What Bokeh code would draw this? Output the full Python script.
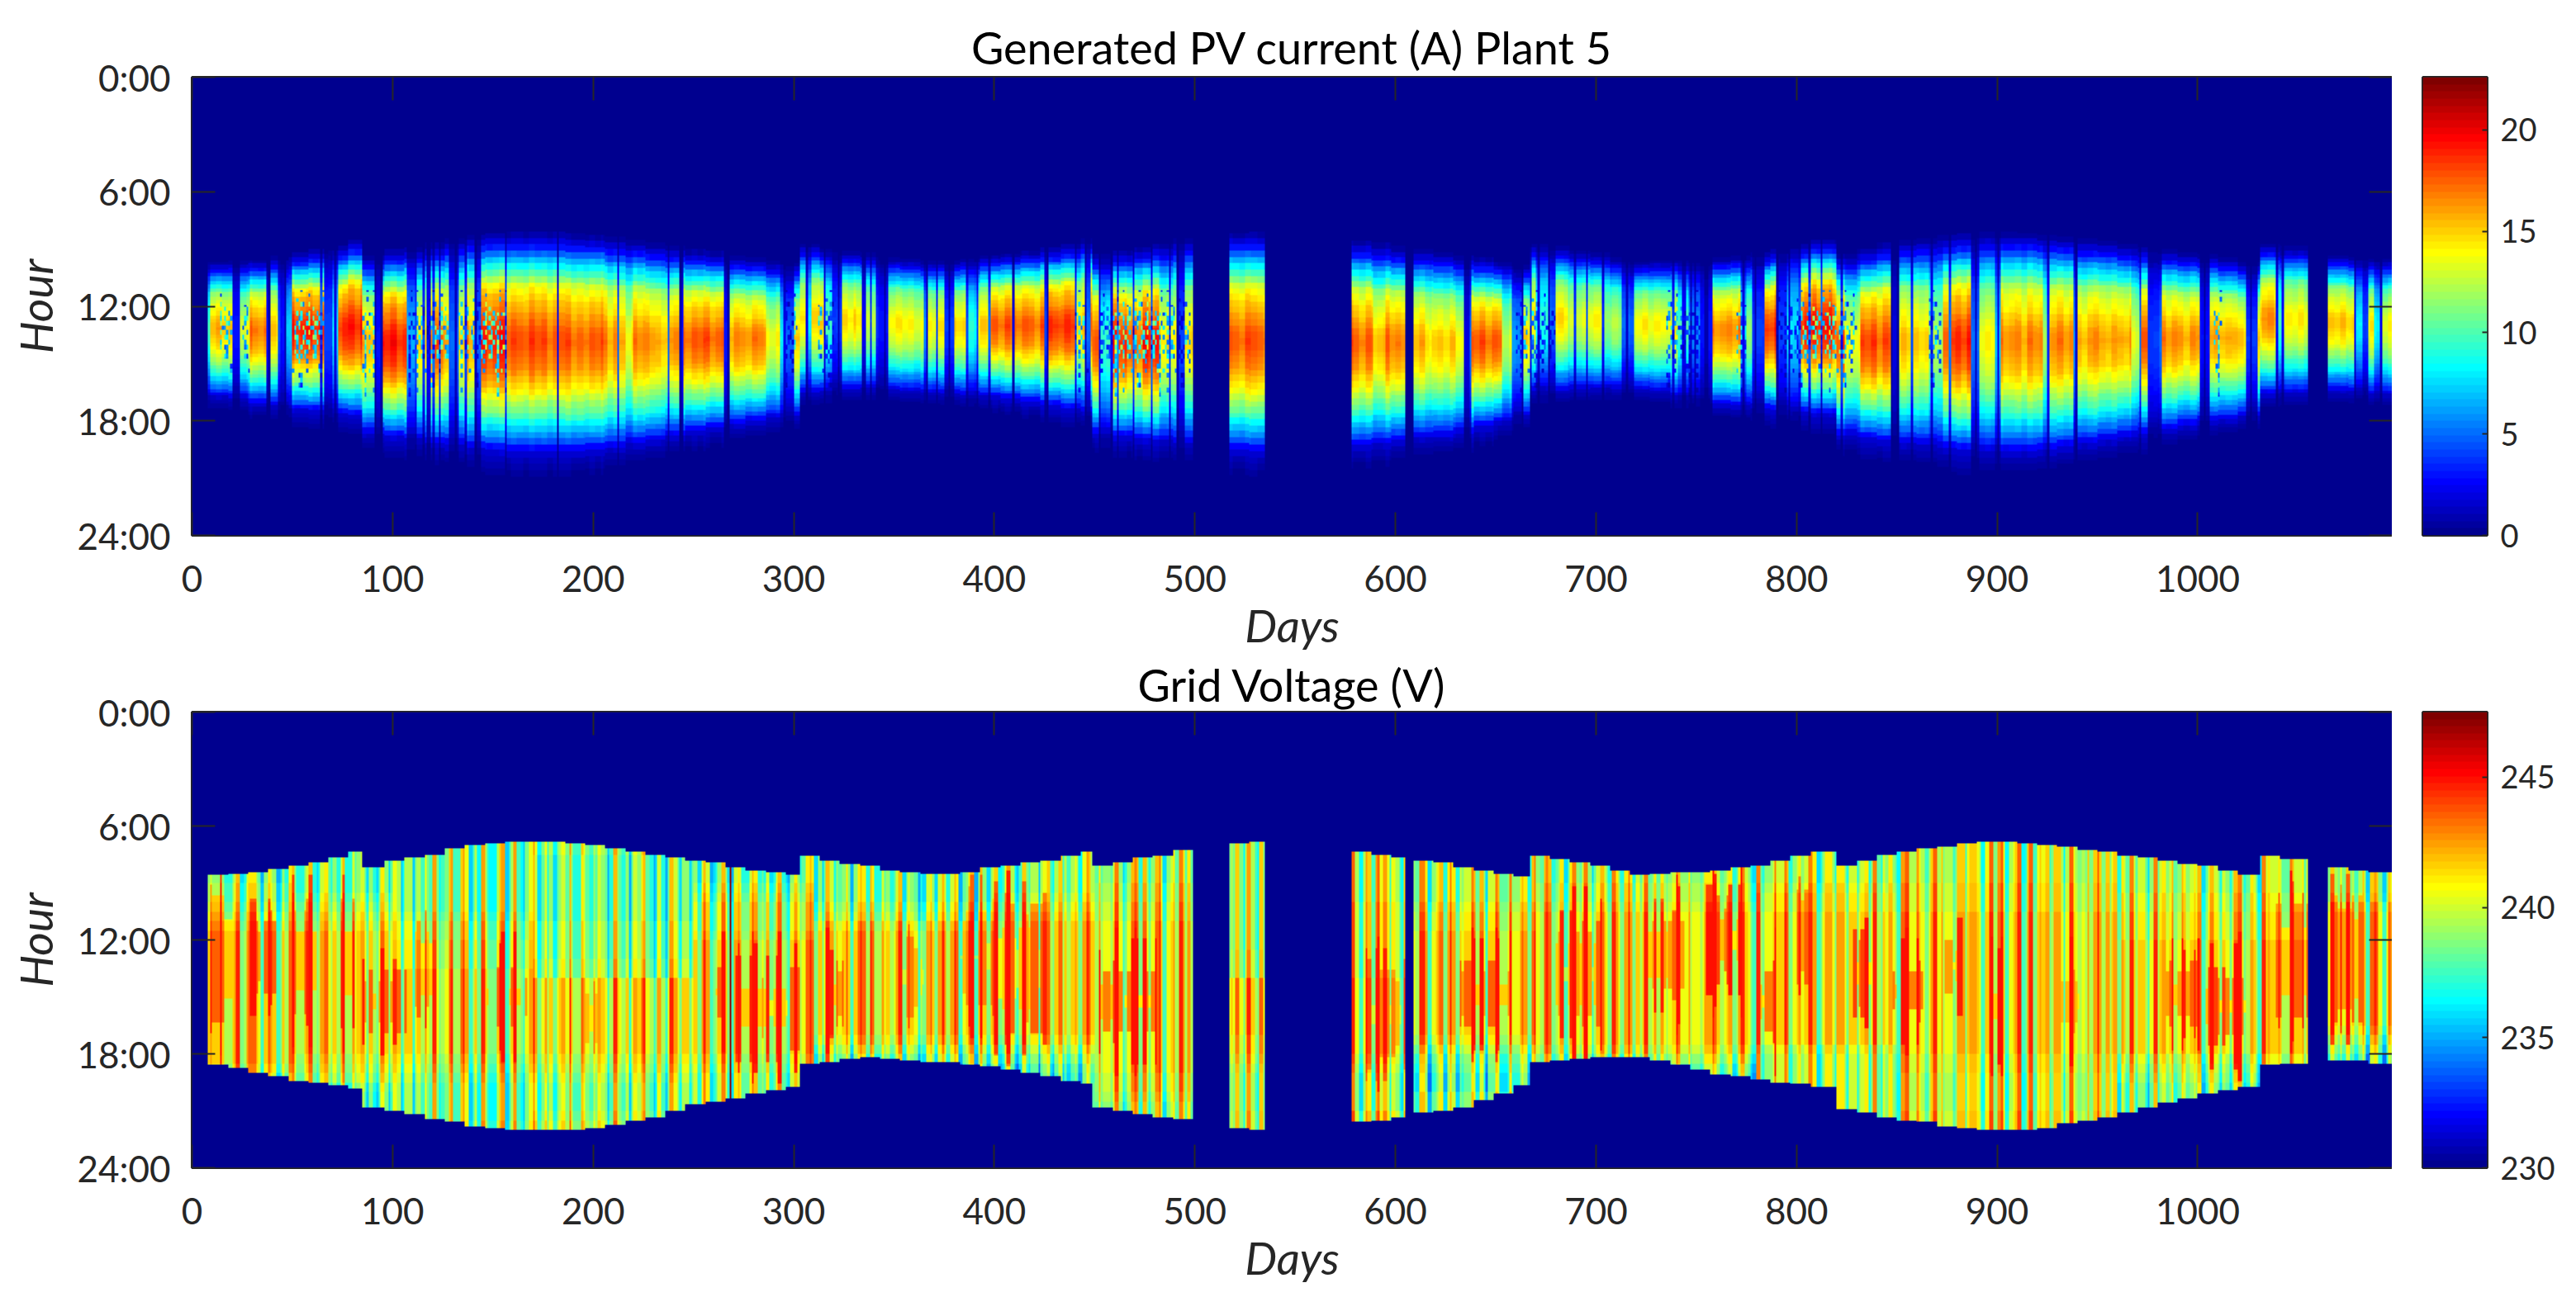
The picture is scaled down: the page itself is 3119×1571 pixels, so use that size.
import numpy as np
from bokeh.embed import file_html
from bokeh.layouts import column, row
from bokeh.models import FixedTicker, LinearAxis, LinearColorMapper, Range1d
from bokeh.plotting import figure
from bokeh.resources import INLINE

# ---------- Chart text and ticks ----------
title_current = "Generated PV current (A) Plant 5"
title_voltage = "Grid Voltage (V)"
x_label = "Days"
y_label = "Hour"
day_ticks = [0, 100, 200, 300, 400, 500, 600, 700, 800, 900, 1000]
hour_ticks = [0, 6, 12, 18, 24]
hour_labels = ["0:00", "6:00", "12:00", "18:00", "24:00"]
current_ticks = [0, 5, 10, 15, 20]
voltage_ticks = [230, 235, 240, 245]
current_range = [0, 22.6]
voltage_range = [230, 247.5]
day_max = 1097

# Days that carry data at all (start, end)
data_span_start = [8, 517, 578, 609, 1065]
data_span_end = [499, 535, 605, 1055, 1097]

# ---------- Daylight envelope (bin start day, first and last hour) ----------
env_days = [8,18,28,38,48,58,68,78,85,96,106,116,126,136,146,156,166,176,186,196,206,216,226,236,246,256,266,276,286,296,
            303,313,323,333,343,353,363,373,383,393,403,413,423,433,443,449,459,469,479,489,499,517,527,535,578,588,598,
            609,619,629,639,649,659,667,677,687,697,707,717,727,737,747,757,767,777,787,797,807,820,830,840,850,860,870,
            880,890,900,910,920,930,940,950,960,970,980,990,1000,1010,1020,1031,1041,1055,1065,1075,1085]
env_first = [8.55,8.5,8.44,8.25,8.05,7.9,7.7,7.35,8.15,7.85,7.7,7.5,7.2,7.0,6.9,6.87,6.85,6.86,6.95,7.02,7.15,7.3,7.5,7.65,7.85,7.95,8.15,8.3,8.45,8.6,
             7.6,7.85,8.0,8.1,8.35,8.4,8.5,8.5,8.4,8.2,8.1,7.95,7.8,7.6,7.3,8.1,7.9,7.7,7.55,7.25,7.0,6.9,6.87,6.86,7.36,7.5,7.65,
             7.8,7.95,8.15,8.3,8.5,8.7,7.6,7.75,7.95,8.1,8.35,8.55,8.5,8.44,8.4,8.3,8.2,8.05,7.85,7.6,7.3,8.1,7.8,7.47,7.3,7.2,7.05,
             6.95,6.87,6.86,6.9,7.0,7.1,7.25,7.36,7.55,7.7,7.85,8.0,8.1,8.3,8.55,7.6,7.75,7.94,8.2,8.3,8.4]
env_last = [18.6,18.75,19,19.2,19.4,19.5,19.65,19.8,20.8,21.0,21.2,21.45,21.6,21.8,21.9,22,22,22,22,21.9,21.75,21.5,21.3,21.0,20.7,20.5,20.3,20.1,19.9,19.75,
            18.5,18.4,18.25,18.2,18.25,18.3,18.4,18.45,18.55,18.65,18.8,19,19.2,19.4,19.6,20.8,21,21.2,21.3,21.45,21.5,21.9,22,22,21.6,21.5,21.3,
            21.1,21,20.8,20.4,20.1,19.7,18.4,18.35,18.25,18.2,18.2,18.2,18.3,18.6,18.8,19.1,19.2,19.35,19.5,19.6,19.75,20.9,21.1,21.3,21.5,21.6,21.8,
            21.9,22,22,22,21.9,21.7,21.5,21.3,21.05,20.85,20.6,20.35,20.1,19.95,19.75,18.6,18.5,18.4,18.3,18.35,18.5]

# ---------- Upper panel: stripes of the day axis with their midday current (A) ----------
current_days = [8,9,20,24,29,37,39,44,47,50,58,66,70,73,85,91,95,107,111,117,119,125,128,133,137,141,144,157,182,183,205,212,216,220,231,243,245,265,268,286,293,296,300,306,309,315,319,
                324,331,334,336,342,347,365,367,375,380,387,391,397,409,410,425,427,440,445,448,452,459,466,474,482,487,491,495,
                517,578,589,595,609,617,630,634,637,653,658,664,670,676,680,686,695,703,713,719,732,741,746,752,758,769,772,775,778,784,790,795,801,808,818,824,832,847,851,866,873,887,891,899,902,923,926,938,940,948,967,971,975,981,993,1001,1006,1017,1024,1030,1039,1043,1065,1078,1082,1084,1088,1092]
current_peak = [10,15.5,3,13.5,17,3,15.5,3,7,19,19,4,8,19,15.5,3,19,7,14.5,3,17.5,16.5,5,14.5,16.5,5,19,18,8,17.5,16.5,16,14,16.5,16,3,17.5,3,16.5,14,8,5,14.5,8,15.5,10,4,
                15,14,8,13,3,14,6,14,4,15,9,15,17.5,6,17.5,4,18.5,15,5,17.5,10,19,17.5,19,15,14,4,15,
                17.5,17.5,15,17,15.5,15,14,2,17.5,13,6,15,9,5,15,13,14,12,5,14,14,10,6,3,16.5,16.5,8,12,4,18.5,4,8,18.5,19.5,18,14,18,2,15,12,18.5,5,14,7,16.5,12,16.5,6,16,16,13,17.5,4,16.5,16,3,16,15,4,16,10,14,15,8,4,14,8,14]
assert len(current_days) == len(current_peak), (len(current_days), len(current_peak))

# Share of the midday current across the daylight span, early to late
current_shape = [.01,.04,.10,.17,.27,.38,.47,.55,.64,.73,.78,.82,.85,.875,.91,.94,.97,.99,1,.99,
                 .97,.95,.93,.90,.86,.82,.77,.72,.66,.61,.55,.47,.40,.33,.25,.15,.09,.06,.04,.02]
current_inset_first = 0.9
current_inset_last = 1.1

# One-day dark lines
current_dark_days = [38,43,46,64,71,91,94,111,115,120,123,131,136,141,156,182,212,237,243,267,295,306,315,335,338,
                     322,334,341,345,366,371,377,386,391,397,409,426,440,445,452,458,461,469,478,487,491,
                     637,663,667,671,676,689,695,703,715,744,749,755,
                     738,743,747,754,773,779,790,796,801,806,812,822,847,850,857,867,876,889,900,925,939,971,981,1003,1026,1039,1042,1078,1084,1091]

# Cloud speckle: day spans where the upper panel breaks up, and the grain seen there
# (one character = one day by a quarter of an hour; 9 leaves the current whole, 1 leaves a third)
speckle_start = [14,25,50,85,108,133,296,312,440,452,660,735,770,790,866,1008]
speckle_end = [20,29,66,91,128,157,302,320,447,498,680,752,775,830,872,1012]
speckle_hour_first = 11.0
speckle_grain = [
    "9919629949159929693991",
    "9592991593999419529949",
    "3999599139962999159392",
    "9949193999519962999499",
    "9299939592999399519929",
    "1599929949399159992959",
    "9939569991299939499299",
    "9929399915999269953991",
    "4991999392959991299949",
    "9959929199993959929299",
    "2994999539921999549919",
    "9919399929959239993959",
    "9599249919399959129939",
    "3929999592994199929959",
    "9949519939292999539919",
    "9199929994959129939929",
    "9939499159929939995129",
    "5991992399949199929599",
    "9929959991392999415929",
    "9499139929599929993959",
    "1999592994199939529992",
    "9939299959919492999159",
    "9599919329949959219939",
    "4929995991299395999419",
]

# ---------- Lower panel: voltage (V) by period (rows) and half hour from 7:00 (columns) ----------
voltage_periods = [0,50,100,170,250,310,400,450,500,535,605,670,780,850,960,1055,1097]
voltage_table = [
    [238,238,238,238,238.5,238.5,239,239.5,240,241,242,242.5,243,243,243,243,243,243,242.5,242,241.5,241,240.5,240,239,238,237,236.5,236.5,236.5],
    [238,238,238,238,238,238.5,239,239.5,240,240.5,241,241.5,242,242,242,243,243.5,243.5,243,242.5,241.5,240.5,240,239.5,239,238,237.5,237.5,237.5,237.5],
    [238.5,238.5,238.5,238.5,238.5,238.5,238.5,239,239.5,239.5,240,240,240,240.5,242.5,243,243,243,242.5,242,241,240.5,240,239.5,239,238.5,238.5,238.5,238.5,239],
    [238.5,238,238,238,238,238,238,238,238.5,238.5,238.5,238.5,239,239,240.5,241,241.5,241.5,241.5,241.5,241,240.5,240,239.5,239,238.5,238.5,238.5,239,239.5],
    [238,238,238,238,238.5,239,239.5,239.5,239.5,240,240.5,240.5,241,241,243.5,243.5,243.5,243,243,242,241,240.5,240,239.5,239,239,239,239,239,239],
    [238,238,238,238,238,238,238.5,239,240,240.5,241,241,241,241.5,242,242.5,243,243,242,241.5,240,239,238,237,236.5,236.5,236.5,236.5,236.5,236.5],
    [238.5,238.5,238.5,238.5,238.5,239,239.5,240,241,242,243,243,243,243,243,243,243,243,242,241.5,240,239,238,237,236.5,237,237,237,237,237],
    [239,239,239,239,239.5,239.5,240,240,240.5,241,241.5,241.5,242,242,243.5,244,243.5,243,243,242.5,242,241.5,241,240.5,240,240,239.5,239,239,239],
    [238.5,238.5,238.5,238.5,238.5,238.5,238.5,238.5,238.5,238.5,238.5,239,239,239,241,241,241,241,240.5,240.5,240,240,239.5,239,238.5,238.5,238.5,238.5,239,239],
    [239.5,239.5,239.5,239.5,239.5,239.5,240,240,240,240,240,240,240,240,241,241.5,242,242,242,241.5,241,240.5,240,239.5,239,239,239,239,240,240],
    [239,239,239,239,239,239,239.5,240,240,240.5,240.5,240.5,241,241,243,243.5,243.5,243,242,241,240,239,238,237.5,237,237,238,238,238,238],
    [239,239,239,239,239.5,239.5,240,240.5,241,242,242.5,243,243,243,243,243,243,242.5,242,241.5,241,240,239,238,237.5,237.5,238,238,238,238],
    [239,239,239,239,239.5,240,240,240.5,241,241.5,242,242,242.5,242.5,243,243.5,243.5,243,242.5,242,240.5,239.5,239,239,239,239,239,239,239,239],
    [239.5,239.5,239.5,239.5,240,240,240,240.5,240.5,241,241,241,241.5,241.5,243,243,242.5,242.5,242,241.5,241,240.5,240,240,239.5,239.5,239.5,239.5,240,240],
    [239,239,239,239,239,239.5,239.5,240,240,240,240.5,240.5,241,241,243,243.5,243.5,243,243,242.5,241,240.5,239.5,239,238.5,238,238,238,238,238],
    [238.5,238.5,238.5,238.5,238.5,239,240,241,242.5,243,243,243,243,243,243,243,242.5,242,241,240,239,238,237,236.5,236.5,236.5,236.5,236.5,237,237],
]
voltage_table_cap = 240.5
voltage_ceiling = 245.0

# Hot patches: first day, last day, first hour, last hour, extra volts
patch_day0 = [9,29,50,74,85,111,147,196,260,271,316,354,383,400,452,585,631,680,726,755,756,782,800,828,848,874,897,932,984,1004,1039,1066]
patch_day1 = [20,42,62,81,107,120,167,202,266,303,325,365,400,426,481,605,657,703,744,769,773,790,806,837,863,883,903,941,1001,1024,1055,1082]
patch_hour0 = [10.3,11.6,11,11,14.2,11.6,14,14.8,14,14,13.7,12.4,11,10.7,13.7,14.2,13.7,11.6,11,10.3,10.3,13.7,9.9,12,13.7,12,14.2,14.2,13.7,14,10.7,10.3]
patch_hour1 = [15.7,14.2,15.3,15.5,16.3,15.5,16,17.4,15.5,17.2,16,15.5,14.8,16.3,16.8,17.6,16,16,14.6,13.7,13.7,16.8,13.7,15.5,15.7,14.8,16.8,16.3,16,17,15.5,15.7]
patch_volts = [2,2,2,2,2,2,2,1.5,2,2,2,1.5,1.5,2,2.5,1.5,2,2,2,2.5,2.5,2.5,2,2.5,2.5,2,2,1.5,2,2.5,2,2]
# Hours a stripe's own level stretches or shrinks a hot patch, per volt
patch_stretch = 0.6

# Day-to-day stripe seen in the lower panel, one figure per 2 days (V above/below the period's level)
voltage_stripes = [
    0,0,0,0,2,1,-1,2,0,-1,1,4,-1,0,1,3,1,-2,0,2,1,-1,0,-2,1,
    2,0,-1,1,3,0,-1,2,1,-2,0,1,4,-1,-2,1,2,0,-2,1,0,-1,2,1,-2,
    0,2,-2,1,3,-1,0,-2,1,0,2,-2,-1,1,4,-1,-2,2,0,-1,1,-2,3,0,-1,
    -2,1,2,-2,0,4,-1,-2,1,0,2,-2,-1,1,3,-2,0,1,-2,2,0,-1,3,1,-2,
    0,2,-1,-2,1,4,0,-1,2,-2,0,1,3,-1,0,-2,2,1,-1,3,0,-2,1,2,-1,
    0,-2,2,0,-2,-1,1,4,0,-2,1,2,-1,0,3,1,-2,-1,2,0,1,3,-1,-2,2,
    1,-1,0,2,4,-1,1,-2,2,3,0,-1,1,3,-2,0,2,1,-1,4,0,-2,1,2,-1,
    0,3,-2,1,0,2,-1,-2,1,2,-1,0,2,-1,1,4,-2,0,1,2,-1,3,0,-2,1,
    2,-1,0,3,1,-2,0,2,-1,1,3,-1,0,2,-2,1,4,0,-2,1,2,-1,0,3,1,
    -2,1,2,0,-1,3,1,-2,0,2,4,-1,1,-2,0,2,3,-1,0,1,-2,2,0,3,-1,
    1,-2,2,0,4,-2,1,2,-1,0,3,1,-1,2,0,-2,3,1,0,2,-1,1,4,-2,0,
    2,1,-1,3,0,-2,1,2,0,3,-1,1,-2,2,4,0,-1,2,1,-2,3,0,1,-1,2,
    0,-2,3,1,0,-1,2,4,-2,0,1,2,-1,3,0,-2,1,2,0,3,-1,1,-2,2,0,
    3,-1,1,2,-2,0,2,1,-1,4,0,-2,2,1,-1,0,2,-2,1,3,0,-1,2,1,-2,
    0,3,1,-1,2,0,-2,1,4,0,1,-1,2,0,1,-2,2,0,1,-1,3,0,-1,1,2,
    0,-1,1,0,4,2,-1,0,1,-1,0,2,1,0,-1,3,-2,0,1,2,-1,0,3,-2,1,
    2,0,-1,4,1,-2,0,2,1,-1,3,0,-2,1,2,-1,0,2,-2,3,1,0,-1,2,0,
    -2,1,4,0,-1,2,1,-2,0,3,-1,1,2,0,-2,1,3,-1,0,2,1,-2,0,4,-1,
    1,2,-2,0,1,3,-1,0,2,-2,1,0,3,-1,2,0,-2,1,4,0,-1,2,1,-2,0,
    2,-1,3,0,1,-2,2,0,3,-1,1,0,-2,2,4,-1,0,1,2,-2,0,3,1,-1,0,
    2,-2,1,3,0,-1,2,0,-2,1,3,-1,0,2,1,-2,4,0,-1,1,2,0,-2,3,1,
    -1,0,2,1,-2,3,0,-1,2,1,0,-2,4,1,-1,0,2,-2,1,3,0,-1,2,1,0,
]
# Narrower stripes laid over them, one figure per 3 days; the current's faint streaks follow them too
voltage_fine = [
    0,1,-1,0,2,-1,0,1,-1,2,0,-1,1,0,-2,1,2,-1,0,1,-1,0,2,1,-2,0,1,-1,2,0,
    -1,1,0,2,-1,0,-2,1,1,-1,2,0,-1,0,1,2,-2,0,1,-1,0,2,-1,1,0,-1,2,0,1,-2,
    0,1,2,-1,0,-1,1,0,2,-2,1,0,-1,2,0,1,-1,0,-2,1,2,0,-1,1,0,2,-1,0,1,-2,
    1,0,-1,2,1,0,-2,1,0,-1,2,0,1,-1,0,2,-1,1,0,-2,1,2,0,-1,1,-1,0,2,0,1,
    -2,0,1,-1,2,0,1,-1,0,2,-2,1,0,1,-1,2,0,-1,1,0,-2,2,1,0,-1,1,0,-1,2,0,
    1,-2,0,2,-1,0,1,-1,2,0,1,-2,0,1,2,-1,0,1,-1,0,2,-2,1,0,-1,2,1,0,-1,0,
    2,1,-1,0,-2,1,0,2,-1,1,0,-1,2,0,-2,1,0,1,2,-1,0,-1,1,0,2,-2,0,1,-1,2,
    0,-1,1,0,2,-1,1,0,-2,2,0,1,-1,0,1,2,-1,0,-2,1,0,2,-1,1,0,-1,2,0,1,-2,
    0,2,-1,1,0,-1,2,0,1,-2,0,1,2,-1,0,1,-1,2,0,-2,1,0,-1,2,1,0,-1,0,2,1,
    -2,0,1,-1,2,0,-1,1,0,2,-2,1,0,-1,2,0,1,-1,0,2,1,-2,0,1,-1,2,0,-1,1,0,
    2,-1,0,1,-2,2,0,1,-1,0,2,-1,1,0,-2,1,2,0,-1,1,0,-1,2,0,1,-2,0,2,-1,1,
    0,-1,2,1,-2,0,1,-1,0,2,1,-1,0,-2,1,2,0,-1,1,0,2,-1,0,1,-2,1,0,2,-1,0,
    1,-1,2,0,-2,1,0,1,-1,2,0,-1,1,0,2,-2,1,0,-1,1,
]
current_streak = 0.025
voltage_dark_days = [268]
voltage_dark_value = 247

ROWS = 288
HOUR_STEP = 24 / ROWS
row_hours = (np.arange(ROWS) + 0.5) * HOUR_STEP

# MATLAB-style 64-level jet
def jet(n=64):
    cols = []
    for i in range(n):
        x = (i + 1) / n
        r = np.clip(min(4 * x - 1.5, 4.5 - 4 * x), 0, 1)
        g = np.clip(min(4 * x - 0.5, 3.5 - 4 * x), 0, 1)
        b = np.clip(min(4 * x + 0.5, 2.5 - 4 * x), 0, 1)
        cols.append("#%02x%02x%02x" % (int(r * 255), int(g * 255), int(b * 255)))
    return cols
PALETTE = jet()

def has_data(d):
    return any(a <= d < b for a, b in zip(data_span_start, data_span_end))

def bin_index(edges, d):
    return int(np.clip(np.searchsorted(edges, d, side="right") - 1, 0, len(edges) - 1))

def speckled(d):
    return any(a <= d < b for a, b in zip(speckle_start, speckle_end))

current = np.zeros((ROWS, day_max))
voltage = np.full((ROWS, day_max), 230.0)
for d in range(day_max):
    if not has_data(d):
        continue
    k = bin_index(env_days, d)
    first, last = env_first[k], env_last[k]
    a, b = first + current_inset_first, last - current_inset_last
    fine = voltage_fine[min(d // 3, len(voltage_fine) - 1)]
    peak = current_peak[bin_index(current_days, d)] * (1 + current_streak * fine)
    if d in current_dark_days:
        peak *= 0.3
    n_grain = len(speckle_grain[0])
    grain_top = speckle_hour_first + int(speckle_grain[0][d % n_grain]) * 0.15
    grain_rows = len(speckle_grain) - int(speckle_grain[-1][d % n_grain])
    for r, h in enumerate(row_hours):
        t = (h - a) / (b - a)
        if 0 <= t < 1:
            v = peak * current_shape[int(t * len(current_shape))]
            if speckled(d) and h >= grain_top:
                q = int((h - speckle_hour_first) * 4)
                if q < grain_rows:
                    v *= (int(speckle_grain[q][d % n_grain]) + 3) / 12
            current[r, d] = v
    p = bin_index(voltage_periods, d)
    s = voltage_stripes[min(d // 2, len(voltage_stripes) - 1)] + fine
    s = max(min(s, 4), -3)
    for r, h in enumerate(row_hours):
        if first <= h < last:
            base = min(voltage_table[p][int(np.clip((h - 7) * 2, 0, 29))], voltage_table_cap)
            for d0, d1, h0, h1, extra in zip(patch_day0, patch_day1, patch_hour0, patch_hour1, patch_volts):
                if d0 <= d < d1 and h0 - patch_stretch * s <= h < h1 + patch_stretch * s:
                    base += extra
                    break
            voltage[r, d] = min(base + s, voltage_ceiling)
            if d in voltage_dark_days:
                voltage[r, d] = voltage_dark_value

INK = "#262626"
FONT = "Lato"

def style_axis(ax, size):
    ax.major_label_text_font = FONT
    ax.major_label_text_font_size = size
    ax.major_label_text_color = INK
    ax.major_tick_line_color = INK
    ax.major_tick_line_width = 2
    ax.minor_tick_line_color = None
    ax.axis_line_color = None

def panel(values, title, vrange, ticks, top, frame_h, bottom, title_gap):
    p = figure(width=2896, height=top + frame_h + bottom, output_backend="svg", toolbar_location=None,
               x_range=Range1d(0, day_max), y_range=Range1d(24, 0),
               min_border_left=232, min_border_right=0, min_border_top=top, min_border_bottom=bottom,
               title=title)
    p.grid.visible = False
    p.outline_line_color = INK
    p.outline_line_width = 3
    p.title.text_font = FONT
    p.title.text_font_size = "54px"
    p.title.text_font_style = "normal"
    p.title.text_color = "#000000"
    p.title.align = "center"
    p.title.standoff = title_gap
    mapper = LinearColorMapper(palette=PALETTE, low=vrange[0], high=vrange[1])
    p.image(image=[values], x=0, y=0, dw=day_max, dh=24, color_mapper=mapper)

    xa = p.xaxis[0]
    style_axis(xa, "44px")
    xa.ticker = FixedTicker(ticks=day_ticks)
    xa.major_tick_in = 28
    xa.major_tick_out = 0
    xa.major_label_standoff = 36
    xa.axis_label = x_label
    xa.axis_label_text_font = FONT
    xa.axis_label_text_font_size = "55px"
    xa.axis_label_text_font_style = "italic"
    xa.axis_label_text_color = INK
    xa.axis_label_standoff = 4

    ya = p.yaxis[0]
    style_axis(ya, "44px")
    ya.ticker = FixedTicker(ticks=hour_ticks)
    ya.major_label_overrides = dict(zip(hour_ticks, hour_labels))
    ya.major_tick_in = 28
    ya.major_tick_out = 0
    ya.major_label_standoff = 26
    ya.axis_label = y_label
    ya.axis_label_text_font = FONT
    ya.axis_label_text_font_size = "55px"
    ya.axis_label_text_font_style = "italic"
    ya.axis_label_text_color = INK
    ya.axis_label_standoff = 14

    top_ax = LinearAxis(ticker=FixedTicker(ticks=day_ticks), major_label_text_color=None,
                        major_label_text_font_size="0px", major_tick_in=28, major_tick_out=0, major_label_standoff=0)
    top_ax.major_tick_line_color = INK
    top_ax.major_tick_line_width = 2
    top_ax.minor_tick_line_color = None
    top_ax.axis_line_color = None
    p.add_layout(top_ax, "above")
    right_ax = LinearAxis(ticker=FixedTicker(ticks=hour_ticks), major_label_text_color=None,
                          major_label_text_font_size="0px", major_tick_in=28, major_tick_out=0, major_label_standoff=0)
    right_ax.major_tick_line_color = INK
    right_ax.major_tick_line_width = 2
    right_ax.minor_tick_line_color = None
    right_ax.axis_line_color = None
    p.add_layout(right_ax, "right")

    # Colour bar as its own small figure
    c = figure(width=215, height=top + frame_h + bottom, output_backend="svg", toolbar_location=None,
               x_range=Range1d(0, 1), y_range=Range1d(vrange[0], vrange[1]), y_axis_location="right",
               min_border_left=37, min_border_right=100, min_border_top=top, min_border_bottom=bottom)
    c.grid.visible = False
    c.xaxis.visible = False
    c.outline_line_color = INK
    c.outline_line_width = 3
    ramp = np.linspace(vrange[0], vrange[1], 64).reshape(-1, 1)
    c.image(image=[ramp], x=0, y=vrange[0], dw=1, dh=vrange[1] - vrange[0], color_mapper=mapper)
    ca = c.yaxis[0]
    style_axis(ca, "38px")
    ca.ticker = FixedTicker(ticks=ticks)
    ca.major_tick_in = 6
    ca.major_tick_out = 0
    ca.major_label_standoff = 16
    return row(p, c)

top_row = panel(current, title_current, current_range, current_ticks, 93, 555, 145, 8)
bottom_row = panel(voltage, title_voltage, voltage_range, voltage_ticks, 69, 552, 149, 2)
page = column(top_row, bottom_row)
open("out.html", "w").write(file_html(page, INLINE))
